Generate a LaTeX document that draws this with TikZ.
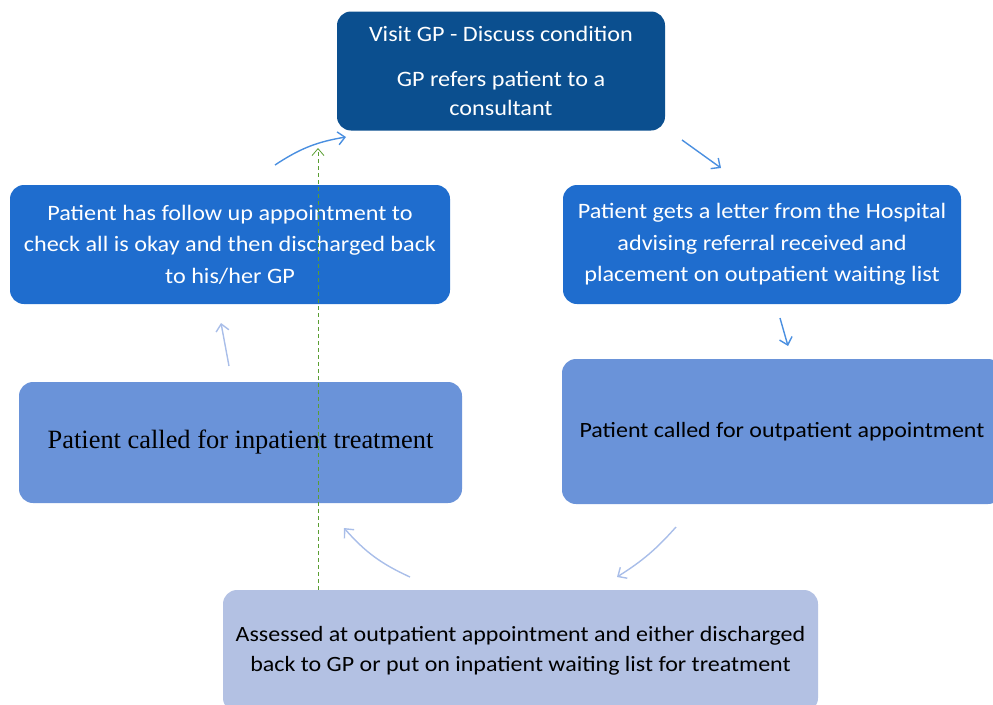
\documentclass[tikz,border=0pt]{standalone}
\usepackage{fontspec}
\setmainfont{Carlito}[FakeStretch=1.1]
\newfontfamily\serifbox{Liberation Serif}
\usetikzlibrary{arrows.meta}
\definecolor{darkbox}{HTML}{0B4F8F}
\definecolor{midbox}{HTML}{1F6DCE}
\definecolor{lightbox}{HTML}{6A93D9}
\definecolor{paleBox}{HTML}{B3C1E3}
\definecolor{arrowblue}{HTML}{4A8FE0}
\definecolor{arrowpale}{HTML}{A9BEE9}
\definecolor{dashgreen}{HTML}{5A9E32}
\tikzset{
  box/.style={rectangle, rounded corners=14pt, inner sep=0pt, align=center},
  flow/.style={draw=arrowblue, line width=1.4pt, -{Straight Barb[length=7pt,width=13pt]}},
  paleflow/.style={draw=arrowpale, line width=1.4pt, -{Straight Barb[length=7pt,width=13pt]}},
  whitetext/.style={text=white, font=\fontsize{22}{31.5}\selectfont},
  blacktext/.style={text=black, font=\fontsize{21.8}{30}\selectfont},
}
\begin{document}
\begin{tikzpicture}[x=1pt,y=-1pt]
\useasboundingbox (0,0) rectangle (993,704);
\clip (0,0) rectangle (993,704);
% boxes
\node[box, fill=darkbox, minimum width=328pt, minimum height=119pt, text=white,
      font=\fontsize{22}{29}\selectfont] (gp) at (501,71)
  {Visit GP - Discuss condition\\[16pt]GP refers patient to a\\consultant};
\node[box, fill=midbox, minimum width=398pt, minimum height=119pt, whitetext] (letter) at (762,244.5)
  {Patient gets a letter from the Hospital\\advising referral received and\\placement on outpatient waiting list};
\node[box, fill=lightbox, minimum width=440pt, minimum height=145pt, blacktext] (outpt) at (782,431.5)
  {Patient called for outpatient appointment};
\node[box, fill=paleBox, minimum width=595pt, minimum height=122pt, blacktext] (assess) at (520.5,651)
  {Assessed at outpatient appointment and either discharged\\back to GP or put on inpatient waiting list for treatment};
\node[box, fill=lightbox, minimum width=443pt, minimum height=121pt, text=black,
      font=\serifbox\fontsize{26.4}{30}\selectfont] (inpt) at (240.5,442.5)
  {Patient called for inpatient treatment};
\node[box, fill=midbox, minimum width=440pt, minimum height=119pt, whitetext] (follow) at (230,244.5)
  {Patient has follow up appointment to\\check all is okay and then discharged back\\to his/her GP};
% arrow end points
\coordinate (a1s) at (682,140);  \coordinate (a1e) at (721,168);
\coordinate (a2s) at (780,318);  \coordinate (a2e) at (788,346);
\coordinate (a3s) at (676,527);  \coordinate (a3e) at (617,577);
\coordinate (a4s) at (410,577);  \coordinate (a4e) at (344,528);
\coordinate (a5s) at (229,366);  \coordinate (a5e) at (221,323);
\coordinate (a6s) at (275,165);  \coordinate (a6e) at (346,137);
\coordinate (dtop) at (318,148);
% connectors
\draw[flow] (a1s) -- (a1e);
\draw[flow] (a2s) -- (a2e);
\draw[paleflow] (a3s) to[bend left=8] (a3e);
\draw[paleflow] (a4s) to[bend left=12] (a4e);
\draw[paleflow] (a5s) -- (a5e);
\draw[flow] (a6s) to[bend left=12] (a6e);
\draw[dashgreen, line width=0.8pt, dash pattern=on 4pt off 3pt,
      -{Straight Barb[length=7pt,width=12pt]}] (assess.north -| dtop) -- (dtop);
\end{tikzpicture}
\end{document}
